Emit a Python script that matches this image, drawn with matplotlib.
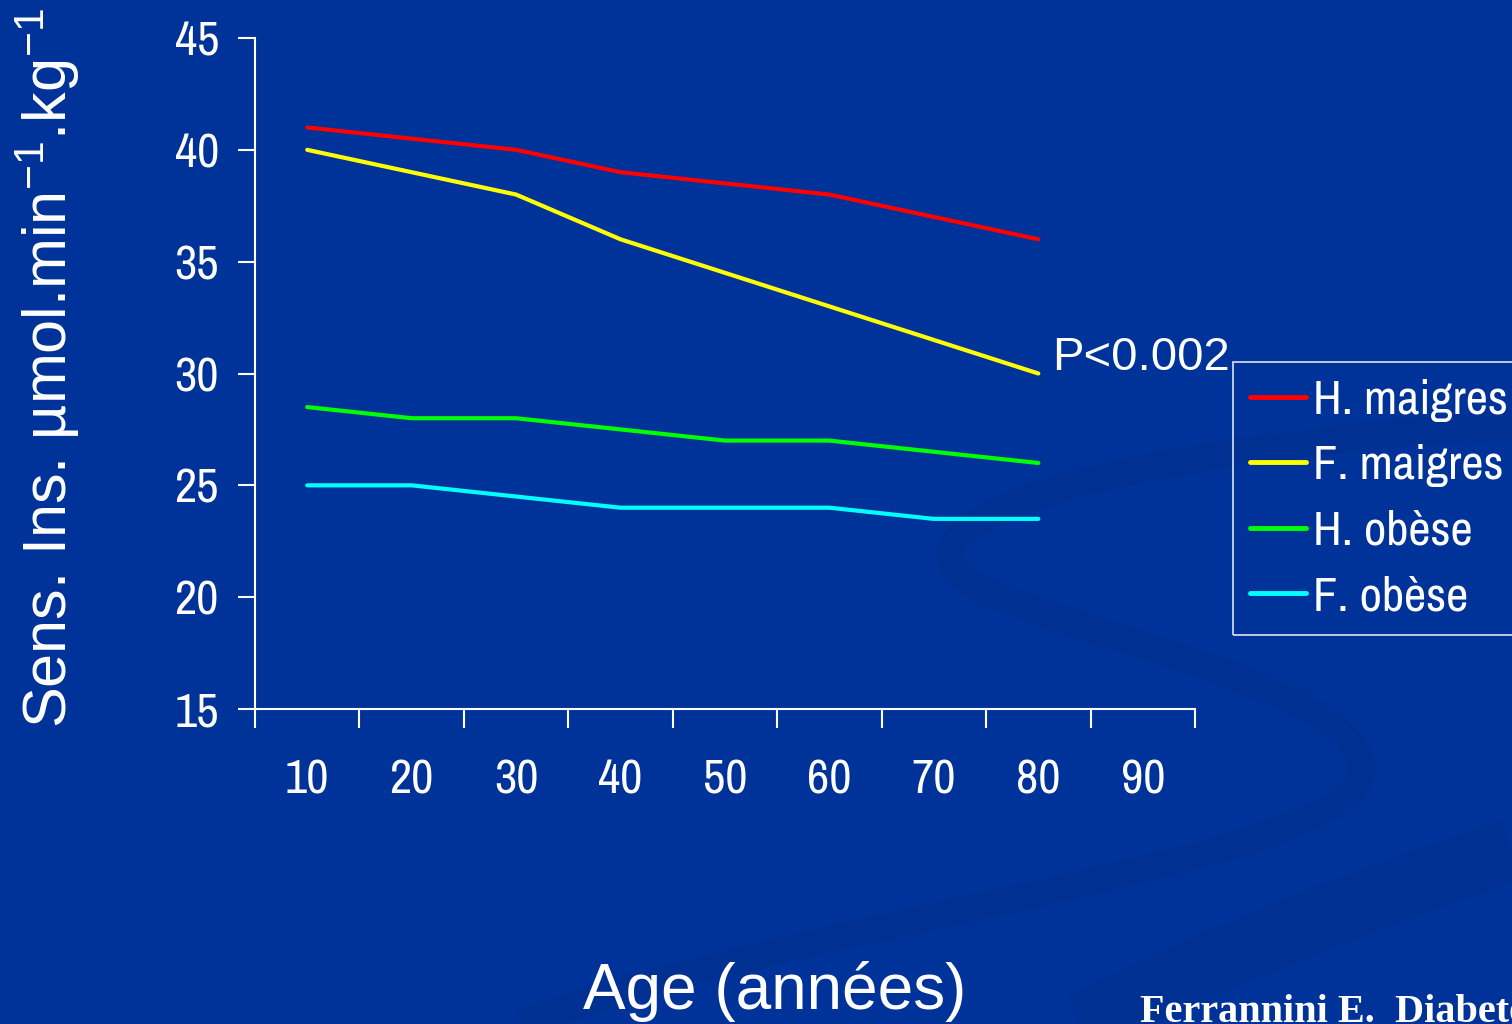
import matplotlib
matplotlib.use("Agg")
import matplotlib.pyplot as plt
from matplotlib.patches import PathPatch
from matplotlib.path import Path
from matplotlib import font_manager

# Data
ages = ["10", "20", "30", "40", "50", "60", "70", "80", "90"]
h_maigres = [41, 40.5, 40, 39, 38.5, 38, 37, 36]
f_maigres = [40, 39, 38, 36, 34.5, 33, 31.5, 30]
h_obese = [28.5, 28, 28, 27.5, 27, 27, 26.5, 26]
f_obese = [25, 25, 24.5, 24, 24, 24, 23.5, 23.5]
series_names = ["H. maigres", "F. maigres", "H. obèse", "F. obèse"]
series_colors = ["#ff0000", "#ffff00", "#00ff00", "#00ffff"]
y_ticks = [15, 20, 25, 30, 35, 40, 45]

BG = "#003399"
RIBBON = "#003092"
installed = {f.name for f in font_manager.fontManager.ttflist}
narrow = "Archivo Narrow" if "Archivo Narrow" in installed else "Liberation Sans"

plt.rcParams["mathtext.default"] = "regular"
plt.rcParams["mathtext.fontset"] = "custom"
plt.rcParams["mathtext.rm"] = "Liberation Sans"

fig = plt.figure(figsize=(15.12, 10.24), dpi=100, facecolor=BG)

# Decorative background ribbon (pixel coordinates, y downwards)
bg = fig.add_axes([0, 0, 1, 1], zorder=0)
bg.set_xlim(0, 1512)
bg.set_ylim(1024, 0)
bg.axis("off")
ribbon = Path([(1512, 425), (1100, 450), (900, 520), (960, 575),
               (1030, 630), (1360, 680), (1362, 770),
               (1365, 860), (800, 920), (520, 1024)],
              [Path.MOVETO] + [Path.CURVE4] * 9)
bg.add_patch(PathPatch(ribbon, facecolor="none", edgecolor=RIBBON, lw=20,
                       capstyle="butt"))
band = Path([(1512, 850), (1300, 920), (1150, 990), (1080, 1024)],
            [Path.MOVETO, Path.CURVE4, Path.CURVE4, Path.CURVE4])
bg.add_patch(PathPatch(band, facecolor="none", edgecolor=RIBBON, lw=45,
                       capstyle="butt"))

ax = fig.add_axes([255 / 1512, 1 - 709 / 1024, (1195 - 255) / 1512, (709 - 38) / 1024],
                  zorder=1)
ax.set_facecolor("none")

x = list(range(len(h_maigres)))
for vals, name, col in zip([h_maigres, f_maigres, h_obese, f_obese],
                           series_names, series_colors):
    ax.plot(x, vals, color=col, lw=3, label=name, solid_capstyle="round")

ax.set_xlim(-0.5, len(ages) - 0.5)
ax.set_ylim(15, 45)
ax.set_yticks(y_ticks)
ax.set_yticklabels([str(v) for v in y_ticks], fontsize=35, color="white",
                   family=narrow)
ax.set_xticks([i - 0.5 for i in range(len(ages) + 1)])
ax.set_xticklabels([])
ax.set_xticks(range(len(ages)), minor=True)
ax.set_xticklabels(ages, minor=True, fontsize=35, color="white", family=narrow)
ax.tick_params(axis="x", which="major", direction="out", length=14, width=1.5,
               color="white")
ax.tick_params(axis="x", which="minor", length=0, pad=36)
ax.tick_params(axis="y", direction="out", length=12, width=1.5, color="white", pad=14)

for side in ["top", "right"]:
    ax.spines[side].set_visible(False)
for side in ["left", "bottom"]:
    ax.spines[side].set_color("white")
    ax.spines[side].set_linewidth(1.5)

ax.text(7.13, 30.7, "P<0.002", fontsize=34, color="white", family="Liberation Sans",
        va="center", ha="left")

fig.text(48 / 1512, 1 - 368 / 1024, r"Sens. Ins. µmol.min$^{-1}$.kg$^{-1}$",
         rotation=90, fontsize=44, color="white", family="Liberation Sans",
         ha="center", va="center")
fig.text(775 / 1512, 1 - 992 / 1024, "Age (années)", fontsize=46, color="white",
         family="Liberation Sans", ha="center", va="center")
fig.text(1140 / 1512, 1 - 1022 / 1024, "Ferrannini E.  Diabetes", fontsize=29,
         color="white", family="Liberation Serif", weight="bold",
         ha="left", va="baseline")

leg = ax.legend(loc="upper left", bbox_to_anchor=(1233 / 1512, 1 - 362 / 1024),
                bbox_transform=fig.transFigure, frameon=True, fancybox=False,
                facecolor="none", edgecolor="white",
                prop={"family": narrow, "size": 35}, handlelength=1.15,
                handletextpad=0.15, labelspacing=0.46, borderpad=0.35,
                borderaxespad=0)
leg.get_frame().set_linewidth(1.3)
for line in leg.get_lines():
    line.set_linewidth(3.5)
for t in leg.get_texts():
    t.set_color("white")

fig.savefig("out.png", dpi=100, facecolor=BG)
